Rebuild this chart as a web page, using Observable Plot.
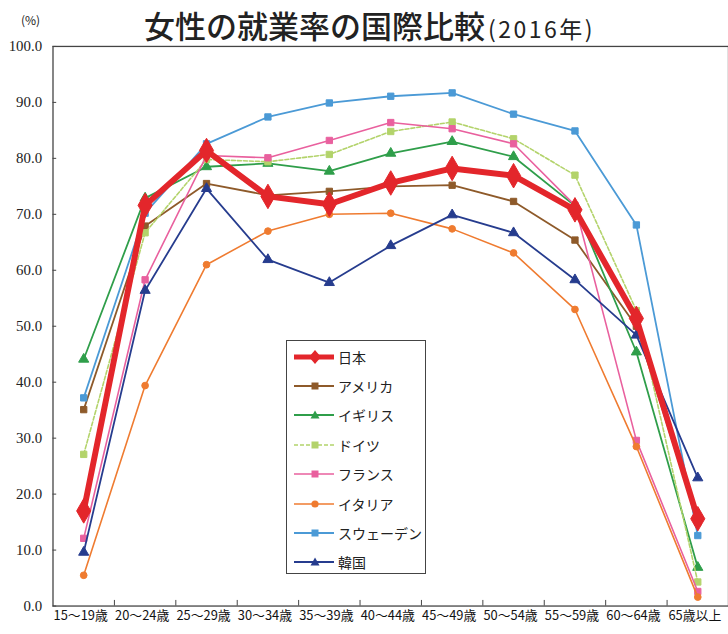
<!DOCTYPE html>
<html><head><meta charset="utf-8">
<script src="https://cdn.jsdelivr.net/npm/d3@7"></script>
<script src="https://cdn.jsdelivr.net/npm/@observablehq/plot@0.6"></script>
<style>
html,body{margin:0;padding:0;background:#fff;overflow:hidden;width:728px;height:634px;}
#wrap{position:relative;width:728px;height:634px;}
#title{position:absolute;left:144px;top:2px;font-family:"Noto Sans CJK JP",sans-serif;font-size:31px;font-weight:500;color:#222;white-space:nowrap;}
#title span{font-size:23px;letter-spacing:2.5px;font-weight:400;margin-left:3px;}
#unit{position:absolute;left:21px;top:11px;font-family:"Noto Sans CJK JP",sans-serif;font-size:12px;color:#222;}
#chart{position:absolute;left:0;top:40px;}
#legend{position:absolute;left:286px;top:340px;width:140px;height:234px;border:1.5px solid #444;background:#fff;box-sizing:border-box;padding-top:1px;}
.li{display:flex;align-items:center;height:29.4px;font-family:"Noto Sans CJK JP",sans-serif;font-size:14px;color:#222;}
.li svg{margin-left:6px;margin-right:3px;}
</style></head>
<body><div id="wrap">
<div id="unit">(%)</div>
<div id="title">女性の就業率の国際比較<span>(2016年)</span></div>
<div id="chart"></div>
<div id="legend"></div>
</div>
<script>
const ages = ["15〜19歳","20〜24歳","25〜29歳","30〜34歳","35〜39歳","40〜44歳","45〜49歳","50〜54歳","55〜59歳","60〜64歳","65歳以上"];
const yTicks = [0,10,20,30,40,50,60,70,80,90,100];
const countries = ["日本","アメリカ","イギリス","ドイツ","フランス","イタリア","スウェーデン","韓国"];
const japan   = [17.0, 71.6, 81.4, 73.2, 71.8, 75.6, 78.2, 76.9, 70.8, 51.4, 15.6];
const usa     = [35.1, 67.9, 75.5, 73.4, 74.1, 75.0, 75.2, 72.3, 65.4, 50.0, 15.0];
const uk      = [44.1, 72.9, 78.5, 79.1, 77.7, 80.9, 83.0, 80.3, 71.5, 45.4, 6.9];
const germany = [27.1, 66.7, 79.8, 79.4, 80.7, 84.8, 86.5, 83.5, 77.0, 52.8, 4.3];
const france  = [12.1, 58.3, 80.5, 80.1, 83.2, 86.4, 85.3, 82.6, 71.6, 29.6, 2.6];
const italy   = [5.5, 39.4, 61.0, 67.0, 70.0, 70.2, 67.4, 63.1, 53.0, 28.5, 1.6];
const sweden  = [37.2, 70.2, 82.6, 87.4, 89.9, 91.1, 91.7, 87.9, 84.9, 68.1, 12.6];
const korea   = [9.6, 56.4, 74.6, 61.9, 57.8, 64.4, 69.9, 66.7, 58.3, 48.4, 22.9];

const seriesValues = [japan, usa, uk, germany, france, italy, sweden, korea];
const styles = [
  {color:"#e3262b", width:6,   symbol:"diamond",  r:7.5, dash:null},
  {color:"#8e5a2a", width:1.8, symbol:"square",   r:3.6, dash:null},
  {color:"#2f9e4a", width:1.8, symbol:"triangle", r:3.8, dash:null},
  {color:"#b3d36b", width:1.6, symbol:"square",   r:3.6, dash:"4,2"},
  {color:"#e9609e", width:1.6, symbol:"square",   r:3.6, dash:null},
  {color:"#ef7b30", width:1.6, symbol:"circle",   r:3.4, dash:null},
  {color:"#4b9ad6", width:1.8, symbol:"square",   r:3.6, dash:null},
  {color:"#263c8e", width:1.8, symbol:"triangle", r:3.8, dash:null}
];

const bounds = d3.range(1, 11).map(i => i - 0.5);
const drawOrder = [1,2,3,4,5,6,7,0];
const marks = [
  Plot.frame({stroke:"#444", strokeWidth:1.3}),
  Plot.ruleX(bounds, {y1:0, y2:1.0, stroke:"#444"}),
  Plot.ruleY(yTicks, {x1:-0.5, x2:-0.44, stroke:"#444"}),
  Plot.axisY({ticks:yTicks, tickFormat:d=>d.toFixed(1), tickSize:0, tickPadding:11, label:null,
    fontFamily:"Liberation Serif, serif", fontSize:15, fill:"#222"}),
  Plot.axisX({ticks:d3.range(11), tickFormat:i=>ages[i], tickSize:0, tickPadding:5, dx:-3, label:null,
    fontFamily:"Noto Sans CJK JP, sans-serif", fontSize:13, fill:"#111"})
];
for (const k of drawOrder) {
  const s = styles[k];
  const data = seriesValues[k].map((v,i)=>({i, v}));
  marks.push(Plot.line(data, {x:"i", y:"v", stroke:s.color, strokeWidth:s.width,
    strokeDasharray:s.dash, strokeLinejoin:"round"}));
  marks.push(Plot.dot(data, {x:"i", y:"v", symbol:s.symbol, r:s.r, fill:s.color,
    stroke:s.color, strokeWidth:1}));
}
const chart = Plot.plot({
  width:735, height:594, marginLeft:53, marginRight:0, marginTop:6, marginBottom:23,
  x:{domain:[-0.5,10.5]}, y:{domain:[0,100]},
  style:{background:"transparent", overflow:"visible"},
  marks
});
document.getElementById("chart").appendChild(chart);

// legend
const leg = document.getElementById("legend");
const sym = {
  diamond: "M0,-7L6,0L0,7L-6,0Z",
  square: "M-3.5,-3.5h7v7h-7Z",
  triangle: "M0,-4.5L4.5,3.5L-4.5,3.5Z",
  circle: null
};
countries.forEach((name, k) => {
  const s = styles[k];
  const mk = s.symbol === "circle"
    ? `<circle cx="22" cy="8" r="3.6" fill="${s.color}"/>`
    : `<path transform="translate(22,8)" d="${sym[s.symbol]}" fill="${s.color}"/>`;
  const div = document.createElement("div");
  div.className = "li";
  div.innerHTML = `<svg width="42" height="16"><line x1="1" x2="41" y1="8" y2="8" stroke="${s.color}" stroke-width="${s.width===6?5:s.width}" ${s.dash?`stroke-dasharray="${s.dash}"`:""}/>${mk}</svg><span>${name}</span>`;
  leg.appendChild(div);
});
</script></body></html>
